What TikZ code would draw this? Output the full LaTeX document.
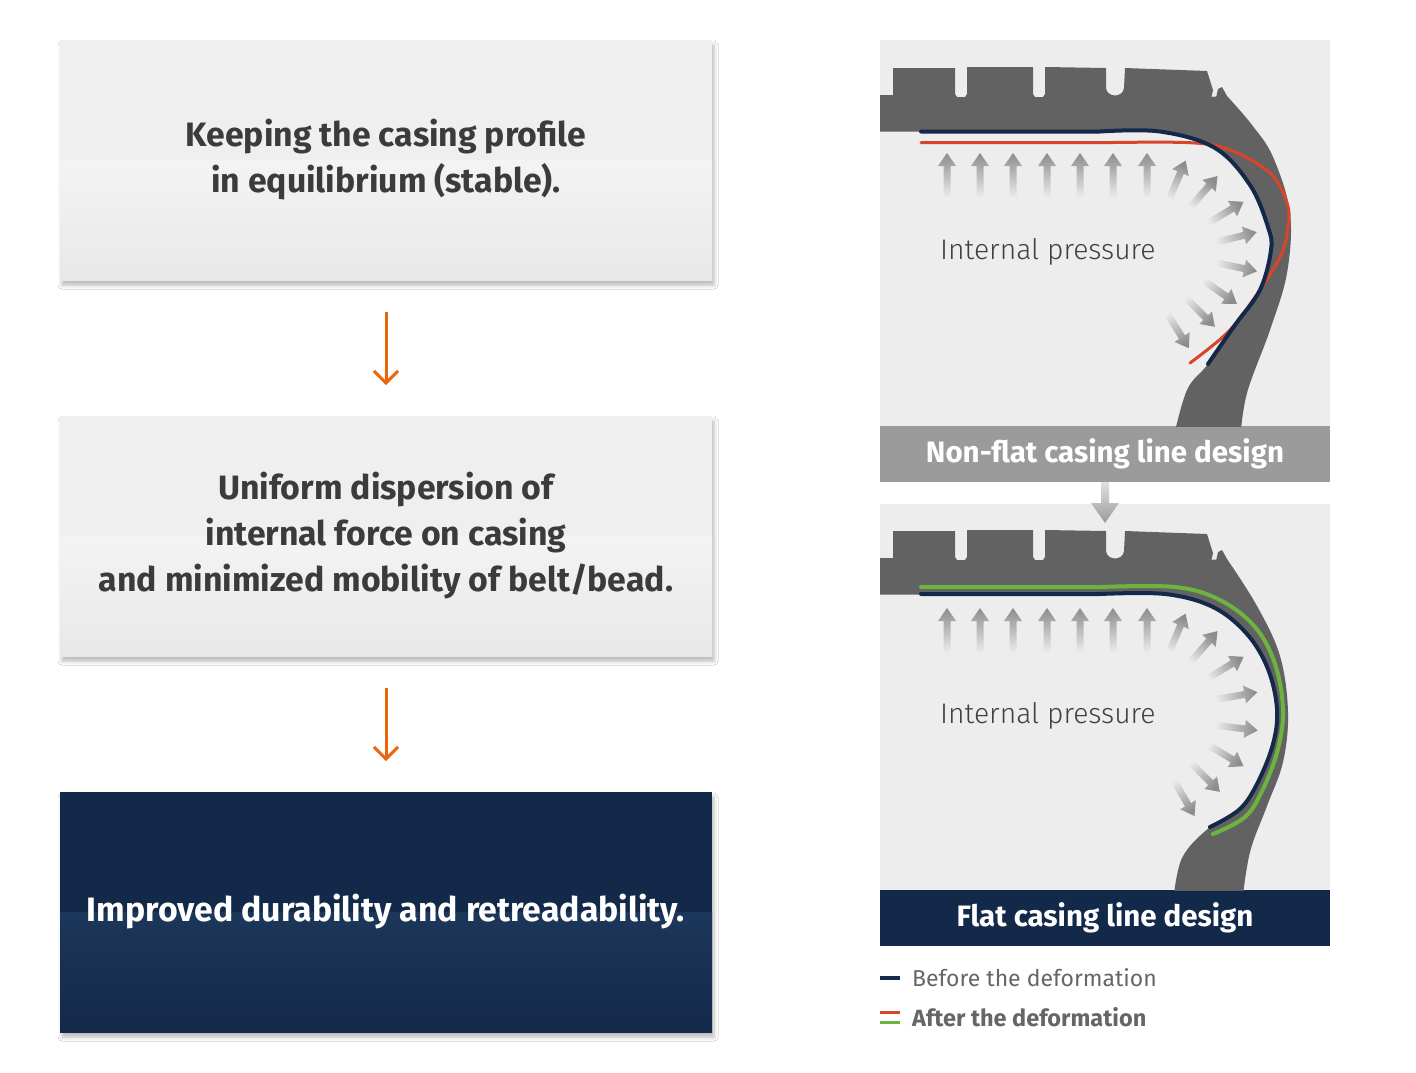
\documentclass[tikz,border=0pt]{standalone}
\usepackage{fontspec}
\setmainfont{Fira Sans}
\newfontfamily\lightfont{Fira Sans Light}
\usetikzlibrary{positioning,arrows.meta,shadows.blur}

\definecolor{boxtop}{HTML}{EFEFEF}
\definecolor{boxbot}{HTML}{E8E8E8}
\definecolor{boxtext}{HTML}{3B3B3B}
\definecolor{navy}{HTML}{13294A}
\definecolor{navylight}{HTML}{254569}
\definecolor{flowor}{HTML}{E8670E}
\definecolor{panelbg}{HTML}{EDEDED}
\definecolor{tiregray}{HTML}{626262}
\definecolor{bargray}{HTML}{9B9B9B}
\definecolor{arrowgray}{HTML}{8C8C8C}
\definecolor{beforeline}{HTML}{14284A}
\definecolor{afterred}{HTML}{D8452A}
\definecolor{aftergreen}{HTML}{6DB33F}
\definecolor{legendtext}{HTML}{666666}

\tikzset{
  flowbox/.style={rectangle, minimum width=652pt, minimum height=240pt, inner sep=0pt, outer sep=0pt,
    align=center, font=\fontsize{33.8}{46}\selectfont\bfseries,
    blur shadow={shadow xshift=2pt, shadow yshift=-5pt, shadow blur radius=4pt, shadow opacity=28}},
  lightbox/.style={flowbox, fill=boxtop, text=boxtext, path picture={
      \shade[top color=white, bottom color=boxbot] (path picture bounding box.west) rectangle (path picture bounding box.south east);}},
  darkbox/.style={flowbox, fill=navy, text=white, path picture={
      \shade[top color=navylight, bottom color=navy] (path picture bounding box.west) rectangle (path picture bounding box.south east);}},
  flowarrow/.style={draw=flowor, line width=3pt, -{Straight Barb[length=12pt, width=24pt]}},
  panel/.style={rectangle, fill=panelbg, minimum width=450pt, minimum height=386pt, inner sep=0pt, outer sep=0pt},
  titlebar/.style={rectangle, minimum width=450pt, minimum height=56pt, inner sep=0pt, outer sep=0pt,
    text=white, font=\fontsize{29.5}{30}\selectfont\bfseries},
  tirefill/.style={fill=tiregray},
  casing/.style={line width=4pt, line cap=round},
  pressure/.style={anchor=west, inner sep=0pt, text=black!75, font=\lightfont\fontsize{28.3}{30}\selectfont},
  legend/.style={anchor=west, inner sep=0pt, text=legendtext, font=\fontsize{23}{26}\selectfont},
  tread/.pic={
    \fill[tirefill] (880,131.5) -- (880,95) -- (893,95) -- (893,68) -- (955,68) -- (955,94) -- (957,97) -- (965,97)
      -- (967,94) -- (967,67) -- (1033,67) -- (1033,94) -- (1035,97) -- (1043,97) -- (1045,94) -- (1045,67)
      -- (1106,68) -- (1106,88) .. controls (1107,98) and (1123,98) .. (1124,88) -- (1125,68) -- (1207,71)
      -- (1213,90) -- (1211,99) -- (1208,104) -- (1213,106) -- (1216,98) -- (1218,89) -- (1222,87) -- (1227,96)
      -- (1150,110) -- (1100,131.5) -- cycle;}
}

% one pressure arrow: tail x, tail y, direction
\newcommand{\pressarrow}[3]{%
  \pgfmathsetmacro\shadeang{#3-90}%
  \shade[top color=arrowgray, bottom color=panelbg, shading angle=\shadeang, shift={(#1,#2)}, rotate=#3]
    (0,-3.5) -- (32,-3.5) -- (32,-9) -- (45,0) -- (32,9) -- (32,3.5) -- (0,3.5) -- cycle;}

\begin{document}
\begin{tikzpicture}[x=1pt, y=-1pt]
\useasboundingbox[fill=white] (0,0) rectangle (1416,1072);

% left flow
\node[lightbox] (keep) at (386,160) {Keeping the casing profile\\in equilibrium (stable).};
\node[lightbox, below=136pt of keep] (disperse) {Uniform dispersion of\\internal force on casing\\and minimized mobility of belt/bead.};
\node[darkbox, below=136pt of disperse] (durable) {Improved durability and retreadability.};
\draw[flowarrow] ([yshift=-32pt]keep.south) -- ([yshift=31pt]disperse.north);
\draw[flowarrow] ([yshift=-32pt]disperse.south) -- ([yshift=31pt]durable.north);

% right panels
\node[panel] (nonflatpanel) at (1105,233) {};
\node[titlebar, fill=bargray, below=0pt of nonflatpanel] (nonflat) {Non-flat casing line design};
\node[panel, below=22pt of nonflat] (flatpanel) {};
\node[titlebar, fill=navy, below=0pt of flatpanel] (flat) {Flat casing line design};

% non-flat tire
\begin{scope}
  \clip (nonflatpanel.south west) rectangle (nonflatpanel.north east);
  \pic at (0,0) {tread};
  \fill[tirefill] (1150,100) -- (1227,96) -- plot[smooth, tension=0.6] coordinates {(1227,96) (1252,125) (1273,157) (1290,213) (1287,273) (1270,330) (1247,393) (1240,440)}
    -- (1173,440) -- plot[smooth, tension=0.6] coordinates {(1173,440) (1187,390) (1208,364) (1235,325) (1260,290) (1271,250) (1268,227) (1250,185) (1215,148) (1160,131.5) (1100,131.5)} -- cycle;
  \draw[casing, afterred, line width=3pt] (921,142.7) -- plot[smooth, tension=0.6] coordinates {(1100,142.7) (1190,142.7) (1230,150) (1270,173) (1287,203) (1288,227) (1280,257) (1253,300) (1227,333) (1190,363)};
  \draw[casing, beforeline] (921,131.5) -- plot[smooth, tension=0.6] coordinates {(1100,131.5) (1160,131.5) (1215,148) (1250,185) (1268,227) (1271,250) (1260,290) (1235,325) (1208,364)};
\end{scope}
\foreach \x/\y/\a in {947/198/90, 980/198/90, 1013/198/90, 1047/198/90, 1080/198/90, 1113/198/90, 1147/198/90,
    1168/202/67, 1188/210/49, 1205/225/31, 1213/243/14, 1213/262/-12, 1200/278/-35, 1183/295/-45, 1165/310/-58}
  \pressarrow{\x}{\y}{\a};
\node[pressure] (pressA) at (940,252) {Internal pressure};

% flat tire
\begin{scope}
  \clip (flatpanel.south west) rectangle (flatpanel.north east);
  \begin{scope}[shift={(0,463)}]
    \pic at (0,0) {tread};
    \fill[tirefill] (1150,100) -- (1227,96) -- plot[smooth, tension=0.6] coordinates {(1227,96) (1257,143) (1280,193) (1288,249) (1283,299) (1267,343) (1250,389) (1242,440)}
      -- (1173,440) -- plot[smooth, tension=0.6] coordinates {(1173,440) (1182,395) (1210,364) (1240,346) (1258,319) (1273,281) (1277,246) (1268,206) (1247,171) (1213,144) (1165,131) (1100,131)} -- cycle;
    \draw[casing, beforeline] (921,131) -- plot[smooth, tension=0.6] coordinates {(1100,131) (1165,131) (1213,144) (1247,171) (1268,206) (1277,246) (1273,281) (1258,319) (1240,346) (1210,364)};
    \draw[casing, aftergreen] (921,124) -- plot[smooth, tension=0.6] coordinates {(1100,124) (1175,124) (1220,137) (1255,164) (1275,201) (1283,246) (1278,286) (1263,326) (1245,354) (1213,371)};
  \end{scope}
\end{scope}
\foreach \x/\y/\a in {947/653/90, 980/653/90, 1013/653/90, 1047/653/90, 1080/653/90, 1113/653/90, 1147/653/90,
    1168/655/67, 1188/665/49, 1205/680/31, 1213/700/10, 1213/725/-7, 1205/743/-31, 1188/760/-45, 1172/777/-60}
  \pressarrow{\x}{\y}{\a};
\node[pressure] (pressB) at (940,716) {Internal pressure};

% arrow between the two designs
\shade[top color=black!12, bottom color=bargray] (nonflat.south) ++(-4,0) -- ++(0,21) -- ++(-10,0) -- ++(14,20)
  -- ++(14,-20) -- ++(-10,0) -- ++(0,-21) -- cycle;

% legend
\node[legend] (before) at (912,978) {Before the deformation};
\node[legend, font=\fontsize{23.5}{26}\selectfont\bfseries, below=20pt of before.south west, anchor=north west] (after) {After the deformation};
\draw[beforeline, line width=3.5pt] ([xshift=-32pt]before.west) -- ++(20,0);
\draw[afterred, line width=3.5pt] ([xshift=-32pt,yshift=5pt]after.west) -- ++(20,0);
\draw[aftergreen, line width=3.5pt] ([xshift=-32pt,yshift=-5pt]after.west) -- ++(20,0);
\end{tikzpicture}
\end{document}
